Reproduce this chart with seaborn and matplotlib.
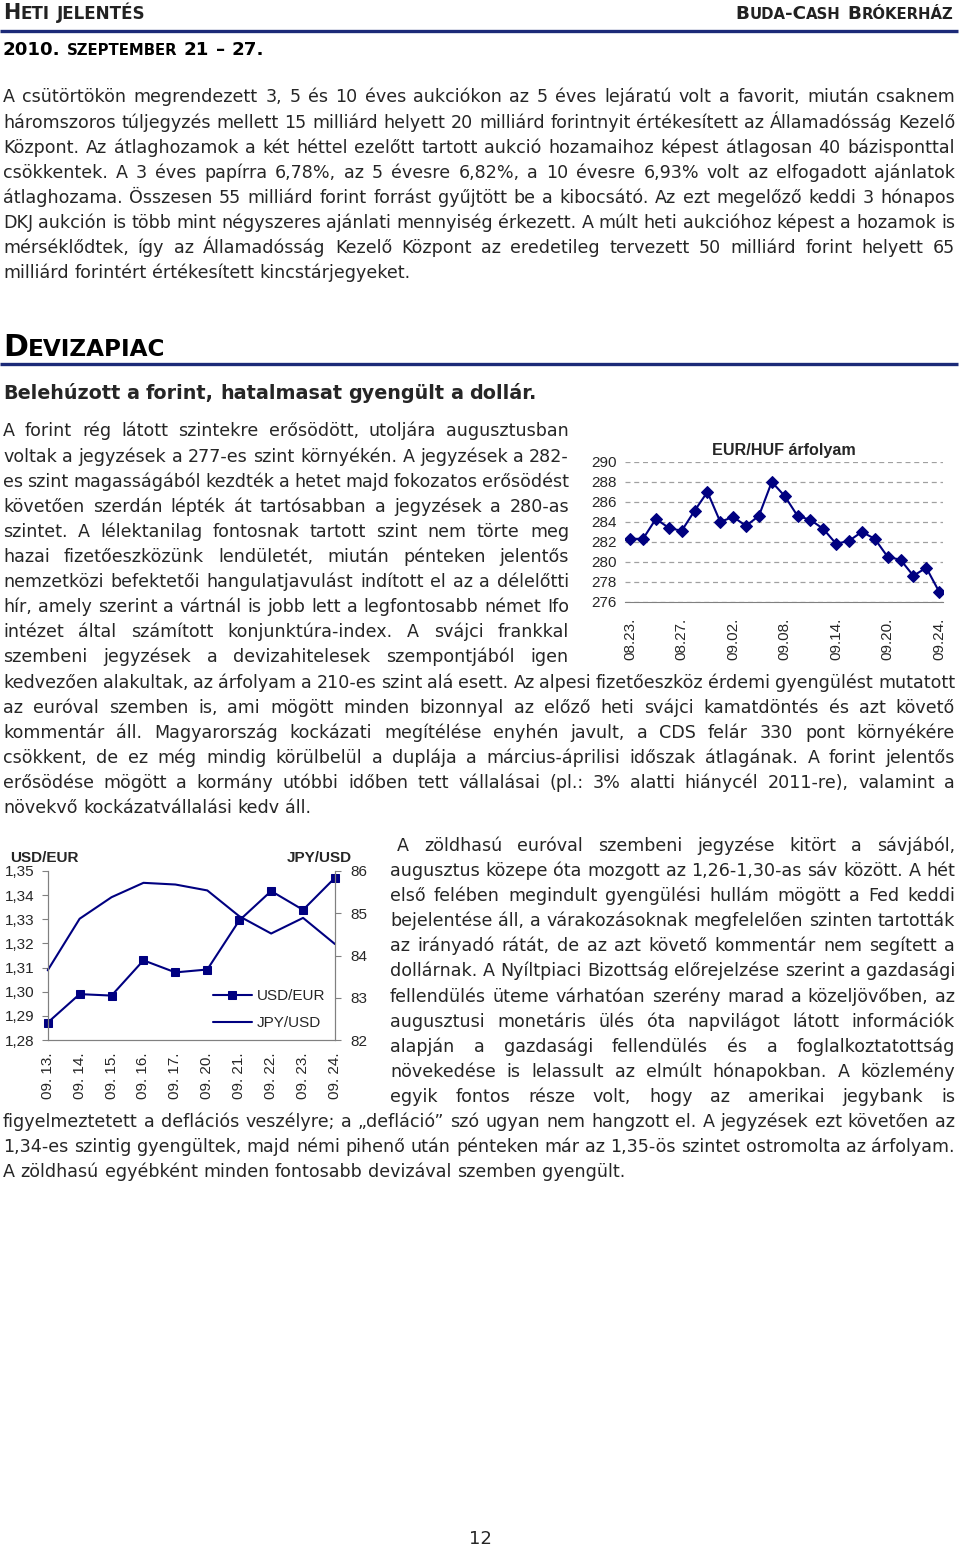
import matplotlib
matplotlib.use("Agg")
import matplotlib.pyplot as plt
from matplotlib import font_manager
from matplotlib.ticker import FuncFormatter
import seaborn as sns

# ---- chart data ----
eurhuf_dates = ["08.23.", "08.24.", "08.25.", "08.26.", "08.27.", "08.30.", "08.31.",
                "09.01.", "09.02.", "09.03.", "09.06.", "09.07.", "09.08.", "09.09.",
                "09.10.", "09.13.", "09.14.", "09.15.", "09.16.", "09.17.", "09.20.",
                "09.21.", "09.22.", "09.23.", "09.24."]
eurhuf = [282.3, 282.3, 284.3, 283.4, 283.1, 285.1, 287.0, 284.0, 284.5, 283.6, 284.6,
          288.0, 286.6, 284.6, 284.2, 283.3, 281.8, 282.1, 283.0, 282.3, 280.5, 280.2,
          278.6, 279.4, 277.0]

usd_dates = ["09. 13.", "09. 14.", "09. 15.", "09. 16.", "09. 17.",
             "09. 20.", "09. 21.", "09. 22.", "09. 23.", "09. 24."]
usdeur = [1.2872, 1.2990, 1.2984, 1.3130, 1.3080, 1.3092, 1.3295, 1.3417, 1.3339, 1.3472]
jpyusd = [83.65, 84.87, 85.38, 85.72, 85.68, 85.54, 84.93, 84.52, 84.89, 84.27]

# ---- page text, one entry per printed line ----
para1 = [
    "A csütörtökön megrendezett 3, 5 és 10 éves aukciókon az 5 éves lejáratú volt a favorit, miután csaknem",
    "háromszoros túljegyzés mellett 15 milliárd helyett 20 milliárd forintnyit értékesített az Államadósság Kezelő",
    "Központ. Az átlaghozamok a két héttel ezelőtt tartott aukció hozamaihoz képest átlagosan 40 bázisponttal",
    "csökkentek. A 3 éves papírra 6,78%, az 5 évesre 6,82%, a 10 évesre 6,93% volt az elfogadott ajánlatok",
    "átlaghozama. Összesen 55 milliárd forint forrást gyűjtött be a kibocsátó. Az ezt megelőző keddi 3 hónapos",
    "DKJ aukción is több mint négyszeres ajánlati mennyiség érkezett. A múlt heti aukcióhoz képest a hozamok is",
    "mérséklődtek, így az Államadósság Kezelő Központ az eredetileg tervezett 50 milliárd forint helyett 65",
    "milliárd forintért értékesített kincstárjegyeket.",
]
para2_left = [
    "A forint rég látott szintekre erősödött, utoljára augusztusban",
    "voltak a jegyzések a 277-es szint környékén. A jegyzések a 282-",
    "es szint magasságából kezdték a hetet majd fokozatos erősödést",
    "követően szerdán lépték át tartósabban a jegyzések a 280-as",
    "szintet. A lélektanilag fontosnak tartott szint nem törte meg",
    "hazai fizetőeszközünk lendületét, miután pénteken jelentős",
    "nemzetközi befektetői hangulatjavulást indított el az a délelőtti",
    "hír, amely szerint a vártnál is jobb lett a legfontosabb német Ifo",
    "intézet által számított konjunktúra-index. A svájci frankkal",
    "szembeni jegyzések a devizahitelesek szempontjából igen",
]
para2_full = [
    "kedvezően alakultak, az árfolyam a 210-es szint alá esett. Az alpesi fizetőeszköz érdemi gyengülést mutatott",
    "az euróval szemben is, ami mögött minden bizonnyal az előző heti svájci kamatdöntés és azt követő",
    "kommentár áll. Magyarország kockázati megítélése enyhén javult, a CDS felár 330 pont környékére",
    "csökkent, de ez még mindig körülbelül a duplája a március-áprilisi időszak átlagának. A forint jelentős",
    "erősödése mögött a kormány utóbbi időben tett vállalásai (pl.: 3% alatti hiánycél 2011-re), valamint a",
    "növekvő kockázatvállalási kedv áll.",
]
para3_right = [
    "A zöldhasú euróval szembeni jegyzése kitört a sávjából,",
    "augusztus közepe óta mozgott az 1,26-1,30-as sáv között. A hét",
    "első felében megindult gyengülési hullám mögött a Fed keddi",
    "bejelentése áll, a várakozásoknak megfelelően szinten tartották",
    "az irányadó rátát, de az azt követő kommentár nem segített a",
    "dollárnak. A Nyíltpiaci Bizottság előrejelzése szerint a gazdasági",
    "fellendülés üteme várhatóan szerény marad a közeljövőben, az",
    "augusztusi monetáris ülés óta napvilágot látott információk",
    "alapján a gazdasági fellendülés és a foglalkoztatottság",
    "növekedése is lelassult az elmúlt hónapokban. A közlemény",
    "egyik fontos része volt, hogy az amerikai jegybank is",
]
para3_full = [
    "figyelmeztetett a deflációs veszélyre; a „defláció” szó ugyan nem hangzott el. A jegyzések ezt követően az",
    "1,34-es szintig gyengültek, majd némi pihenő után pénteken már az 1,35-ös szintet ostromolta az árfolyam.",
    "A zöldhasú egyébként minden fontosabb devizával szemben gyengült.",
]

NAVY = "#000080"
RULE = "#1c2a78"
GREY = "#808080"
BODY_SIZE = 12.6
LEAD = 25.1

sns.set_style("white")
plt.rcParams["font.family"] = ["DejaVu Sans"]
names = {f.name for f in font_manager.fontManager.ttflist}
if "Liberation Sans Narrow" in names:
    NARROW, NS = "Liberation Sans Narrow", 12.5
else:
    NARROW, NS = "Liberation Sans", 11.0

fig = plt.figure(figsize=(9.6, 15.48), dpi=100)
page = fig.add_axes([0, 0, 1, 1])
page.set_xlim(0, 960)
page.set_ylim(1548, 0)
page.axis("off")
renderer = fig.canvas.get_renderer()


def width_of(s, size, weight="normal"):
    t = page.text(0, 0, s, fontsize=size, fontweight=weight)
    w = t.get_window_extent(renderer).width
    t.remove()
    return w


def text_line(s, x0, x1, y, size=BODY_SIZE, justify=True, weight="normal"):
    words = s.split(" ")
    ws = [width_of(w, size, weight) for w in words]
    space = width_of("a a", size, weight) - width_of("aa", size, weight)
    n = len(words)
    if justify and n > 1:
        min_gap = 0.7 * space
        need = sum(ws) + (n - 1) * min_gap
        if need > x1 - x0:
            k = (x1 - x0) / need
            size *= k
            ws = [w * k for w in ws]
        gap = (x1 - x0 - sum(ws)) / (n - 1)
    else:
        gap = space
    x = x0
    for w, wd in zip(words, ws):
        page.text(x, y, w, fontsize=size, fontweight=weight, va="baseline")
        x += wd + gap


def paragraph(lines, x0, x1, y0, last_free=True):
    for i, s in enumerate(lines):
        free = last_free and i == len(lines) - 1
        text_line(s, x0, x1, y0 + i * LEAD, justify=not free)


def small_caps(s, x, y, big, small, target=None, ha="left", color="k"):
    # lowercase letters are drawn as reduced capitals
    def pieces(b, sm):
        out = []
        for word in s.split(" "):
            runs = []
            for ch in word:
                sz = sm if ch.islower() else b
                if runs and runs[-1][1] == sz:
                    runs[-1][0] += ch.upper()
                else:
                    runs.append([ch.upper(), sz])
            out.append(runs)
        return out

    def total(b, sm):
        sp = width_of("H H", b, "bold") - width_of("HH", b, "bold")
        words = pieces(b, sm)
        return sum(width_of(t, z, "bold") for w in words for t, z in w) + sp * (len(words) - 1), sp

    if target:
        w, _ = total(big, small)
        big, small = big * target / w, small * target / w
    W, sp = total(big, small)
    xs = x - W if ha == "right" else x
    for runs in pieces(big, small):
        for t, z in runs:
            page.text(xs, y, t, fontsize=z, fontweight="bold", va="baseline", color=color)
            xs += width_of(t, z, "bold")
        xs += sp


# ---- header ----
small_caps("Heti jelentés", 3, 19, 13.5, 11, target=142, color="#222222")
small_caps("Buda-Cash Brókerház", 953, 19, 13.5, 11, target=218, ha="right", color="#222222")
page.plot([0, 958], [31, 31], color=RULE, lw=2.4, solid_capstyle="butt")
small_caps("2010. szeptember 21 – 27.", 3, 55, 13.5, 11, target=260)

paragraph(para1, 3, 955, 102.5)

small_caps("Devizapiac", 3, 356, 19.5, 15, target=162)
page.plot([0, 958], [364, 364], color=RULE, lw=2.4, solid_capstyle="butt")
text_line("Belehúzott a forint, hatalmasat gyengült a dollár.", 3, 537, 399,
          size=13.8, weight="bold")

paragraph(para2_left, 3, 569, 436.5, last_free=False)
paragraph(para2_full, 3, 955, 436.5 + 10 * LEAD)

text_line(para3_right[0], 397, 955, 851)
paragraph(para3_right[1:], 390, 955, 851 + LEAD, last_free=False)
paragraph(para3_full, 3, 955, 851 + 11 * LEAD)

page.text(480, 1544, "12", fontsize=13, ha="center", va="baseline")


def px_rect(x0, y0, x1, y1):
    return [x0 / 960, 1 - y1 / 1548, (x1 - x0) / 960, (y1 - y0) / 1548]


# ---- EUR/HUF chart ----
ax1 = fig.add_axes(px_rect(625, 462, 943, 601.7))
ax1.patch.set_alpha(0)
sns.lineplot(x=list(range(len(eurhuf))), y=eurhuf, ax=ax1, color=NAVY, lw=1.5,
             marker="D", markersize=6.5, markeredgecolor=NAVY, markerfacecolor=NAVY)
ax1.set_xlim(-0.4, len(eurhuf) - 0.7)
ax1.set_ylim(276, 290)
ax1.set_yticks(range(276, 291, 2))
ticks = list(range(0, len(eurhuf), 4))
ax1.set_xticks(ticks)
ax1.set_xticklabels([eurhuf_dates[i] for i in ticks], rotation=90, family=NARROW, fontsize=NS)
for lab in ax1.get_yticklabels():
    lab.set_family(NARROW)
    lab.set_fontsize(NS)
ax1.yaxis.grid(True, color="#a0a0a0", lw=0.9, ls=(0, (4, 3)))
ax1.xaxis.grid(False)
for side in ["left", "right", "top"]:
    ax1.spines[side].set_visible(False)
ax1.spines["bottom"].set_color(GREY)
ax1.tick_params(axis="y", length=0, pad=6)
ax1.tick_params(axis="x", length=3.5, color=GREY, direction="out", pad=8)
ax1.set_title("EUR/HUF árfolyam", family=NARROW, fontweight="bold", fontsize=NS + 0.6, pad=5)
ax1.set_xlabel("")
ax1.set_ylabel("")

# ---- USD/EUR and JPY/USD chart ----
ax2 = fig.add_axes(px_rect(47.7, 871, 335, 1040))
ax2.patch.set_alpha(0)
xs = list(range(len(usdeur)))
sns.lineplot(x=xs, y=usdeur, ax=ax2, color=NAVY, lw=1.5, marker="s", markersize=5.5,
             markeredgecolor=NAVY, markerfacecolor=NAVY, label="USD/EUR")
ax3 = ax2.twinx()
sns.lineplot(x=xs, y=jpyusd, ax=ax3, color=NAVY, lw=1.5, label="JPY/USD")
for a in (ax2, ax3):
    for ln in a.lines:
        ln.set_clip_on(False)
    a.spines["top"].set_visible(False)
    for side in ["left", "right", "bottom"]:
        a.spines[side].set_color(GREY)
    a.set_xlabel("")
    a.set_ylabel("")
ax2.set_xlim(0, len(usdeur) - 1)
ax2.set_ylim(1.28, 1.35)
ax2.set_yticks([1.28 + 0.01 * i for i in range(8)])
ax2.yaxis.set_major_formatter(FuncFormatter(lambda v, _: f"{v:.2f}".replace(".", ",")))
ax3.set_ylim(82, 86)
ax3.set_yticks(range(82, 87))
ax2.set_xticks(xs)
ax2.set_xticklabels(usd_dates, rotation=90, family=NARROW, fontsize=NS)
for lab in ax2.get_yticklabels() + ax3.get_yticklabels():
    lab.set_family(NARROW)
    lab.set_fontsize(NS)
ax2.tick_params(axis="y", length=4, color=GREY, direction="out", pad=5.5)
ax3.tick_params(axis="y", length=4, color=GREY, direction="out", pad=7)
ax2.tick_params(axis="x", length=4, color=GREY, direction="out", pad=5)
ax2.grid(False)
ax3.grid(False)
h2, l2 = ax2.get_legend_handles_labels()
h3, l3 = ax3.get_legend_handles_labels()
if ax2.get_legend():
    ax2.get_legend().remove()
ax3.legend(h2 + h3, l2 + l3, loc="center left", bbox_to_anchor=(0.55, 0.18),
           frameon=False, borderpad=0, handlelength=2.5, handletextpad=0.35,
           labelspacing=0.85, prop={"family": NARROW, "size": NS})

page.text(10, 862, "USD/EUR", family=NARROW, fontweight="bold", fontsize=NS, va="baseline")
page.text(352, 862, "JPY/USD", family=NARROW, fontweight="bold", fontsize=NS,
          va="baseline", ha="right")

fig.savefig("out.png", dpi=100)
